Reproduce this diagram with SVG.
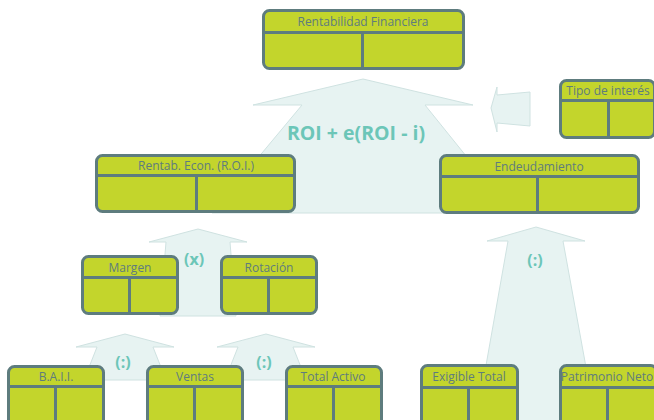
<svg xmlns="http://www.w3.org/2000/svg" width="654" height="420" viewBox="0 0 654 420">
<style>
.box{fill:#c3d52c;stroke:#5e7c7e;stroke-width:3}
.ln{stroke:#5e7c7e;stroke-width:3;fill:none}
.t{font-family:"Open Sans","Noto Sans",sans-serif;font-size:12px;fill:#5e7c7e;text-anchor:middle}
.arr{fill:#e7f3f2;stroke:#cfe2e1;stroke-width:1}
.op{font-family:"Open Sans","Noto Sans",sans-serif;font-weight:bold;fill:#6cc6b8;text-anchor:middle}
</style>
<rect width="654" height="420" fill="#ffffff"/>
<g id="connectors">
<path class="arr" d="M363,79 L473,105 L425,105 L512,213 L212,213 L302,105 L253,105 Z"/>
<path class="arr" d="M491,108 L497,87 L497,95 L530,92 L530,126 L497,123 L497,132 Z"/>
<path class="arr" d="M198,229 L247,242 L230,242 L236,316 L160,316 L166,242 L149,242 Z"/>
<path class="arr" d="M125,334 L174,347 L153,347 L166,380 L84,380 L97,347 L76,347 Z"/>
<path class="arr" d="M266,334 L315,347 L293,347 L306,380 L225,380 L238,347 L217,347 Z"/>
<path class="arr" d="M536,227 L585,241 L563,241 L596,422 L476,422 L508,241 L487,241 Z"/>
</g>
<g id="n-rf">
<rect class="box" x="263.5" y="10.5" width="200" height="58" rx="6"/>
<path class="ln" d="M263.5,32.5 H463.5 M362.5,32.5 V68.5"/>
<text class="t" x="363" y="26">Rentabilidad Financiera</text>
</g>
<g id="n-ti">
<rect class="box" x="560.5" y="80.5" width="94" height="57" rx="6"/>
<path class="ln" d="M560.5,100.5 H654 M608.5,100.5 V137.5"/>
<text class="t" x="608" y="95">Tipo de interés</text>
</g>
<g id="n-roi">
<rect class="box" x="96.5" y="155.5" width="198" height="56" rx="6"/>
<path class="ln" d="M96.5,175.5 H294.5 M196.5,175.5 V211.5"/>
<text class="t" x="196" y="170">Rentab. Econ. (R.O.I.)</text>
</g>
<g id="n-end">
<rect class="box" x="440.5" y="155.5" width="198" height="57" rx="6"/>
<path class="ln" d="M440.5,176.5 H638.5 M537.5,176.5 V212.5"/>
<text class="t" x="539" y="171">Endeudamiento</text>
</g>
<g id="n-mar">
<rect class="box" x="82.5" y="256.5" width="95" height="57" rx="6"/>
<path class="ln" d="M82.5,277.5 H177.5 M129.5,277.5 V313.5"/>
<text class="t" x="130" y="272">Margen</text>
</g>
<g id="n-rot">
<rect class="box" x="221.5" y="256.5" width="95" height="57" rx="6"/>
<path class="ln" d="M221.5,277.5 H316.5 M268.5,277.5 V313.5"/>
<text class="t" x="269" y="272">Rotación</text>
</g>
<g id="n-baii">
<rect class="box" x="8.5" y="366.5" width="95" height="60" rx="6"/>
<path class="ln" d="M8.5,386.5 H103.5 M55.5,386.5 V426"/>
<text class="t" x="56" y="381">B.A.I.I.</text>
</g>
<g id="n-ven">
<rect class="box" x="147.5" y="366.5" width="95" height="60" rx="6"/>
<path class="ln" d="M147.5,386.5 H242.5 M194.5,386.5 V426"/>
<text class="t" x="195" y="381">Ventas</text>
</g>
<g id="n-ta">
<rect class="box" x="286.5" y="366.5" width="95" height="60" rx="6"/>
<path class="ln" d="M286.5,386.5 H381.5 M333.5,386.5 V426"/>
<text class="t" x="333" y="381">Total Activo</text>
</g>
<g id="n-ex">
<rect class="box" x="421.5" y="365.5" width="96" height="61" rx="6"/>
<path class="ln" d="M421.5,387.5 H517.5 M468.5,387.5 V426"/>
<text class="t" x="469" y="381">Exigible Total</text>
</g>
<g id="n-pn">
<rect class="box" x="560.5" y="365.5" width="96" height="61" rx="6"/>
<path class="ln" d="M560.5,387.5 H656 M607.5,387.5 V426"/>
<text class="t" x="607" y="381">Patrimonio Neto</text>
</g>
<g id="labels">
<text class="op" x="356" y="140" font-size="19.5">ROI + e(ROI - i)</text>
<text class="op" x="194" y="265" font-size="16">(x)</text>
<text class="op" x="123" y="368" font-size="16">(:)</text>
<text class="op" x="264" y="368" font-size="16">(:)</text>
<text class="op" x="535" y="266" font-size="16">(:)</text>
</g>
</svg>
